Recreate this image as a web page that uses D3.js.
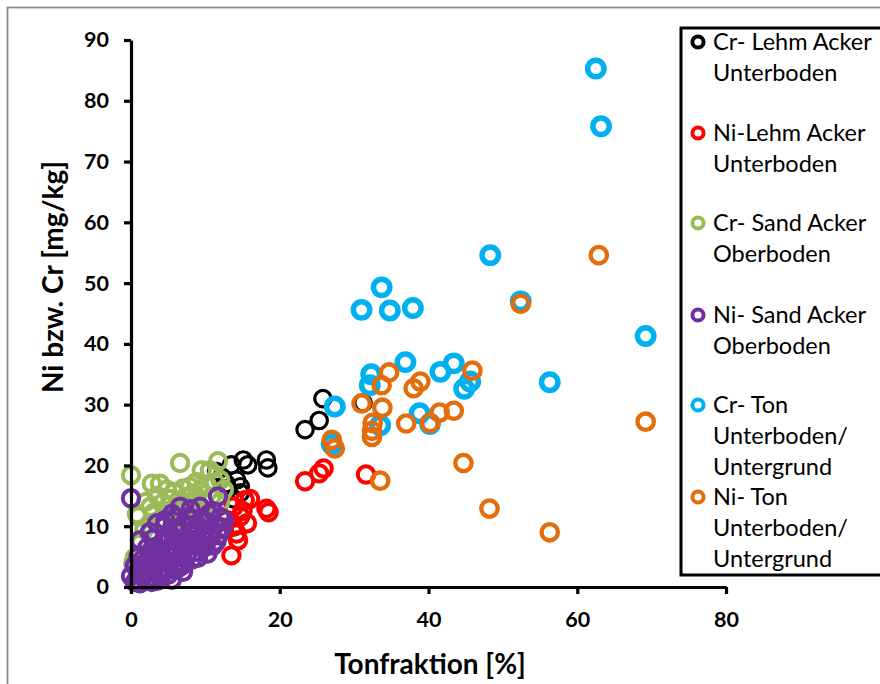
<!DOCTYPE html>
<html>
<head>
<meta charset="utf-8">
<script src="https://cdn.jsdelivr.net/npm/d3@7"></script>
<style>
  html, body { margin: 0; padding: 0; background: #fff; }
  svg { display: block; }
  text { font-family: Lato, "Open Sans", sans-serif; }
</style>
</head>
<body>
<svg id="chart" width="880" height="684"></svg>
<script>
// Tonfraktion [%] vs. Ni / Cr content [mg/kg], one array pair per series

const crLehmX = [25.8, 25.3, 23.4, 31.2, 15.1, 15.7, 18.2, 18.4, 13.5, 14.2, 12.2, 14.7, 14.7, 13.0, 11.5, 13.8, 12.8];
const crLehmY = [31.0, 27.4, 25.9, 30.3, 20.9, 20.1, 20.9, 19.6, 20.1, 17.6, 18.1, 16.5, 15.5, 16.2, 19.0, 14.5, 17.0];

const niLehmX = [15.3, 13.8, 16.0, 18.2, 18.5, 15.6, 14.2, 13.5, 12.9, 14.7, 13.8, 14.4, 15.0, 12.5, 23.4, 25.3, 25.9, 31.6];
const niLehmY = [14.3, 13.2, 14.5, 12.9, 12.3, 10.5, 8.8, 5.2, 11.0, 11.6, 9.9, 7.7, 12.5, 9.5, 17.4, 18.7, 19.5, 18.5];

const crSandX = [0.0, 0.3, 0.5, 0.8, 1.0, 1.3, 1.8, 2.0, 2.6, 2.8, 2.8, 3.0, 3.5, 3.9, 4.0, 4.2, 4.5, 4.8, 5.0, 5.3,
                 5.5, 5.8, 6.0, 6.3, 6.6, 6.6, 7.0, 7.0, 7.3, 7.5, 7.8, 7.9, 8.2, 8.5, 8.8, 8.8, 9.0, 9.2, 9.5, 9.7,
                 10.0, 10.2, 10.6, 10.8, 11.0, 11.3, 11.7, 12.0, 12.0, 12.5, 1.5, 2.2, 3.5];
const crSandY = [18.4, 3.9, 4.8, 12.0, 11.6, 7.2, 9.5, 14.0, 13.2, 9.1, 17.0, 12.2, 15.0, 17.0, 11.0, 13.8, 8.5, 16.0, 12.5, 14.5,
                 10.0, 15.6, 13.0, 11.2, 20.4, 13.5, 16.2, 9.8, 14.8, 13.2, 11.5, 16.5, 15.2, 12.8, 13.2, 17.3, 10.5, 15.8, 19.2, 14.2,
                 12.0, 16.8, 19.2, 14.8, 11.0, 17.2, 20.7, 17.6, 14.0, 16.0, 3.0, 5.5, 6.0];

const niSandX = [0.0, 0.0, 1.2, 1.2, 0.5, 1.0, 1.5, 2.0, 2.0, 2.2, 2.5, 2.8, 3.0, 3.0, 3.3, 3.5, 3.8, 4.0, 4.2, 4.6,
                 4.5, 4.8, 5.0, 5.2, 5.5, 5.8, 6.0, 6.0, 6.3, 6.6, 6.5, 6.8, 7.0, 7.2, 7.5, 7.8, 8.0, 8.3, 8.5, 8.8,
                 9.0, 9.3, 9.5, 9.8, 10.0, 10.2, 10.5, 10.8, 11.0, 11.3, 11.7, 11.8, 12.0, 12.3, 3.5, 2.5, 5.5, 8.0,
                 1.8, 0.8, 2.8, 4.0, 6.8, 3.2, 5.0, 9.0,
                 1.5, 2.3, 3.0, 3.8, 4.3, 4.8, 5.3, 5.8, 6.2, 6.5, 6.9, 7.3, 7.6, 8.2, 8.6, 9.2, 9.6, 10.3, 10.6, 11.0,
                 11.5, 12.5, 2.0, 3.5, 5.5, 7.0, 4.5, 6.0, 1.0, 0.5];
const niSandY = [14.6, 1.8, 0.6, 7.7, 3.5, 5.0, 2.0, 1.0, 4.0, 6.5, 2.5, 5.2, 1.5, 8.0, 3.5, 6.0, 2.2, 4.8, 7.2, 11.0,
                 3.0, 5.8, 8.5, 4.0, 6.8, 2.8, 9.5, 5.2, 7.5, 13.2, 4.2, 6.2, 10.2, 8.0, 5.0, 9.0, 6.8, 11.2, 7.8, 5.8,
                 9.8, 13.2, 8.2, 6.5, 10.8, 7.5, 12.0, 9.2, 6.8, 10.2, 14.9, 8.5, 11.5, 9.8, 10.5, 9.0, 12.0, 12.8,
                 3.0, 1.2, 0.8, 1.5, 3.5, 4.5, 2.0, 4.8,
                 4.5, 3.0, 6.5, 5.5, 2.5, 7.8, 5.5, 8.0, 3.0, 9.2, 5.5, 7.0, 11.5, 4.5, 9.5, 7.0, 11.0, 5.5, 8.5, 12.5,
                 7.5, 11.0, 2.2, 1.0, 1.2, 2.5, 10.0, 11.5, 2.5, 0.8];

const crTonX = [62.5, 63.2, 48.3, 52.4, 69.2, 56.3, 31.0, 33.7, 34.8, 37.9, 36.9, 32.3, 32.1, 43.4, 41.6, 45.6, 44.8,
                27.4, 38.8, 40.2, 33.5, 27.0];
const crTonY = [85.3, 75.8, 54.6, 47.0, 41.3, 33.7, 45.6, 49.3, 45.5, 45.9, 37.0, 35.0, 33.2, 36.8, 35.4, 33.8, 32.6,
                29.7, 28.6, 26.8, 26.6, 23.5];

const niTonX = [62.9, 52.4, 69.2, 56.3, 48.2, 44.7, 33.5, 34.7, 33.7, 38.9, 38.0, 45.9, 31.0, 33.8, 41.5, 43.4, 37.0,
                40.2, 32.5, 32.4, 32.4, 27.0, 27.4];
const niTonY = [54.6, 46.6, 27.2, 9.0, 12.9, 20.4, 17.5, 35.3, 33.2, 33.8, 32.7, 35.6, 30.2, 29.5, 28.7, 29.0, 26.9,
                27.0, 27.0, 25.7, 24.7, 24.2, 22.8];

const seriesNames = [
  ["Cr- Lehm Acker", "Unterboden"],
  ["Ni-Lehm Acker", "Unterboden"],
  ["Cr- Sand Acker", "Oberboden"],
  ["Ni- Sand Acker", "Oberboden"],
  ["Cr- Ton", "Unterboden/", "Untergrund"],
  ["Ni- Ton", "Unterboden/", "Untergrund"]
];
const seriesColors = ["#000000", "#FF0000", "#9BBB59", "#7030A0", "#00B0F0", "#E46C0A"];
const seriesStroke = [3.2, 4, 4, 4, 5.5, 4.3];

const xTicks = [0, 20, 40, 60, 80];
const yTicks = [0, 10, 20, 30, 40, 50, 60, 70, 80, 90];

const series = [
  [crLehmX, crLehmY], [niLehmX, niLehmY], [crSandX, crSandY],
  [niSandX, niSandY], [crTonX, crTonY], [niTonX, niTonY]
].map(([xs, ys], i) => ({
  name: seriesNames[i],
  color: seriesColors[i],
  sw: seriesStroke[i],
  points: xs.map((x, j) => ({ x, y: ys[j] }))
}));

const svg = d3.select("#chart");

// outer chart frame
svg.append("rect")
  .attr("x", 7.5).attr("y", 7.5)
  .attr("width", 900).attr("height", 700)
  .attr("fill", "#fff")
  .attr("stroke", "#8c8c8c").attr("stroke-width", 1.8);

const x = d3.scaleLinear().domain([0, 80]).range([131, 726]);
const y = d3.scaleLinear().domain([0, 90]).range([587, 40]);

// markers, drawn series by series
const marks = svg.append("g");
series.forEach(s => {
  marks.append("g")
    .selectAll("circle")
    .data(s.points)
    .join("circle")
    .attr("cx", d => x(d.x))
    .attr("cy", d => y(d.y))
    .attr("r", 8.2)
    .attr("fill", "none")
    .attr("stroke", s.color)
    .attr("stroke-width", s.sw);
});

// axes
const xAxis = svg.append("g")
  .attr("transform", `translate(0,${y(0)})`)
  .call(d3.axisBottom(x).tickValues(xTicks).tickSize(7).tickSizeOuter(0).tickPadding(18));
const yAxis = svg.append("g")
  .attr("transform", `translate(${x(0)},0)`)
  .call(d3.axisLeft(y).tickValues(yTicks).tickSize(7).tickSizeOuter(0).tickPadding(15));

[xAxis, yAxis].forEach(g => {
  g.select(".domain").attr("stroke", "#000").attr("stroke-width", 3.2);
  g.selectAll(".tick line").attr("stroke", "#000").attr("stroke-width", 3.2);
  g.selectAll(".tick text")
    .attr("fill", "#000")
    .style("font-family", "Lato, sans-serif")
    .style("font-size", "21.5px")
    .style("font-weight", "bold");
});

// axis titles
svg.append("text")
  .attr("x", 430).attr("y", 674)
  .attr("text-anchor", "middle")
  .style("font-size", "28px").style("font-weight", "bold")
  .text("Tonfraktion [%]");

svg.append("text")
  .attr("transform", "translate(63,277) rotate(-90)")
  .attr("text-anchor", "middle")
  .style("font-size", "28px").style("font-weight", "bold")
  .text("Ni bzw. Cr [mg/kg]");

// legend
const legend = svg.append("g");
legend.append("rect")
  .attr("x", 681).attr("y", 28)
  .attr("width", 260).attr("height", 547)
  .attr("fill", "#fff")
  .attr("stroke", "#000").attr("stroke-width", 3);

const legendTop = [42, 133, 223, 315, 405, 497];
const lineGap = 31;
series.forEach((s, i) => {
  const g = legend.append("g");
  g.append("circle")
    .attr("cx", 698).attr("cy", legendTop[i])
    .attr("r", 5.6)
    .attr("fill", "none")
    .attr("stroke", s.color)
    .attr("stroke-width", 4);
  s.name.forEach((line, k) => {
    g.append("text")
      .attr("x", 713)
      .attr("y", legendTop[i] + k * lineGap)
      .attr("dy", "0.35em")
      .style("font-size", "23.5px")
      .attr("fill", "#000")
      .text(line);
  });
});
</script>
</body>
</html>
